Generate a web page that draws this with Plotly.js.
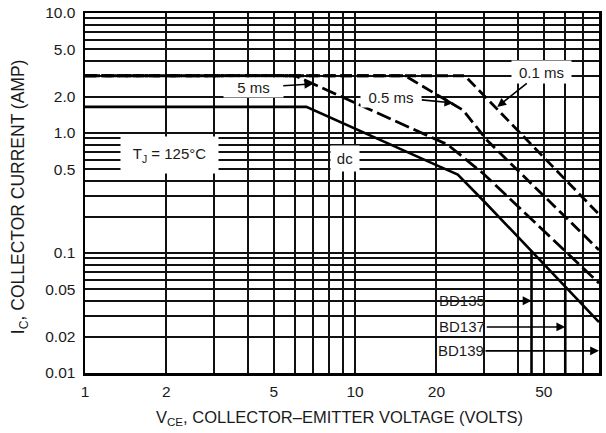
<!DOCTYPE html>
<html>
<head>
<meta charset="utf-8">
<script src="https://cdn.plot.ly/plotly-3.0.1.min.js"></script>
<style>html,body{margin:0;padding:0;background:#fff;}#chart{width:606px;height:433px;}</style>
</head>
<body>
<div id="chart"></div>
<script>
// ---- Data ----
const vceDc = [1, 6.6, 20, 24, 30, 80];
const icDc  = [1.65, 1.65, 0.54, 0.45, 0.27, 0.0266];

const vce5ms = [1, 6, 22, 29.8, 80];
const ic5ms  = [3, 3, 0.8, 0.46, 0.056];

const vce05ms = [1, 15.3, 25.1, 30.8, 80];
const ic05ms  = [3, 3, 1.55, 0.87, 0.106];

const vce01ms = [1, 25.5, 43.4, 80];
const ic01ms  = [3, 3, 0.87, 0.21];

const bdNames  = ['BD135', 'BD137', 'BD139'];
const bdVceMax = [45, 60, 80];
const bdArrowIc = [0.04, 0.0242, 0.0153];
const bd135Ic = [0.104, 0.01];
const bd137Ic = [0.0526, 0.01];

const xGridVals = [1,2,3,4,5,6,7,8,9,10,20,30,40,50,60,70,80];
const xLabelVals = [1,2,5,10,20,50,80];
const yGridVals = [0.01,0.02,0.03,0.04,0.05,0.06,0.07,0.08,0.09,0.1,0.2,0.3,0.4,0.5,0.6,0.7,0.8,0.9,1,2,3,4,5,6,7,8,9,10];
const yLabelVals = [0.01,0.02,0.05,0.1,0.5,1,2,5,10];
const yLabelText = ['0.01','0.02','0.05','0.1','0.5','1.0','2.0','5.0','10.0'];

// ---- Build ----
const FONT = 'Liberation Sans, Arial, sans-serif';
const TXT = '#1a1a1a';
const xTickText = xGridVals.map(v => xLabelVals.includes(v) ? String(v) : '');
const yTickText = yGridVals.map(v => { const i = yLabelVals.indexOf(v); return i >= 0 ? yLabelText[i] : ''; });

const traces = [
  {x: vce01ms, y: ic01ms, mode: 'lines', line: {color: '#000', width: 2.8, dash: '11px,5px'}, hoverinfo: 'skip'},
  {x: vce05ms, y: ic05ms, mode: 'lines', line: {color: '#000', width: 2.8, dash: '12px,5px'}, hoverinfo: 'skip'},
  {x: vce5ms, y: ic5ms, mode: 'lines', line: {color: '#000', width: 2.8, dash: '15px,5px'}, hoverinfo: 'skip'},
  {x: vceDc, y: icDc, mode: 'lines', line: {color: '#000', width: 2.6}, hoverinfo: 'skip'},
  {x: [bdVceMax[0], bdVceMax[0]], y: bd135Ic, mode: 'lines', line: {color: '#000', width: 2.6}, hoverinfo: 'skip'},
  {x: [bdVceMax[1], bdVceMax[1]], y: bd137Ic, mode: 'lines', line: {color: '#000', width: 2.6}, hoverinfo: 'skip'}
];

const L = Math.log10;
const boxAnn = (text, x, y, w, h) => ({text, xref: 'paper', yref: 'paper', x, y, xanchor: 'center', yanchor: 'middle',
  showarrow: false, bgcolor: '#fff', width: w, height: h, font: {family: FONT, size: 15, color: TXT}});
const arrowAnn = (text, vx, vy, ax, ay, extra) => Object.assign({text, x: L(vx), y: L(vy), xref: 'x', yref: 'y',
  ax, ay, showarrow: true, arrowhead: 2, arrowsize: 1.1, arrowwidth: 1.6, arrowcolor: '#000',
  bgcolor: '#fff', font: {family: FONT, size: 15, color: TXT}}, extra || {});

const annotations = [
  boxAnn('T<sub>J</sub> = 125°C', 0.165, 0.606, 95, 34),
  boxAnn('dc', 0.506, 0.597, 26, 23),
  arrowAnn('5 ms', 7, 2.57, -60, 4, {width: 57, height: 17}),
  arrowAnn('0.5 ms', 23.1, 1.78, -62, -6, {width: 58, height: 18}),
  arrowAnn('0.1 ms', 33.6, 1.65, 44, -35, {width: 57, height: 20}),
  arrowAnn(bdNames[0], bdVceMax[0], bdArrowIc[0], -70, 0, {bgcolor: 'rgba(0,0,0,0)'}),
  arrowAnn(bdNames[1], bdVceMax[1], bdArrowIc[1], -103, 0, {bgcolor: 'rgba(0,0,0,0)'}),
  arrowAnn(bdNames[2], bdVceMax[2], bdArrowIc[2], -138, 0, {bgcolor: 'rgba(0,0,0,0)'}),
  {text: 'V<sub>CE</sub>, COLLECTOR–EMITTER VOLTAGE (VOLTS)', xref: 'paper', yref: 'paper', x: 0.496, y: -0.125,
   xanchor: 'center', yanchor: 'middle', showarrow: false, font: {family: FONT, size: 16.5, color: TXT}},
  {text: 'I<sub>C</sub>, COLLECTOR CURRENT (AMP)', xref: 'paper', yref: 'paper', x: -0.126, y: 0.489,
   xanchor: 'center', yanchor: 'middle', textangle: -90, showarrow: false, font: {family: FONT, size: 17.5, color: TXT}}
];

const layout = {
  width: 606, height: 433,
  margin: {l: 85, r: 7, t: 13, b: 60},
  paper_bgcolor: '#fff', plot_bgcolor: '#fff',
  showlegend: false,
  xaxis: {type: 'log', range: [0, L(80)], tickmode: 'array', tickvals: xGridVals, ticktext: xTickText,
    showgrid: true, gridcolor: '#111', gridwidth: 2, zeroline: false, ticks: '', ticklabelstandoff: 3,
    showline: true, mirror: true, linecolor: '#000', linewidth: 2.5,
    tickfont: {family: FONT, size: 15.5, color: TXT}},
  yaxis: {type: 'log', range: [-2, 1], tickmode: 'array', tickvals: yGridVals, ticktext: yTickText,
    showgrid: true, gridcolor: '#111', gridwidth: 2, zeroline: false, ticks: '', ticklabelstandoff: 4,
    showline: true, mirror: true, linecolor: '#000', linewidth: 2.5,
    tickfont: {family: FONT, size: 15.5, color: TXT}},
  shapes: [
    {type: 'rect', xref: 'paper', yref: 'paper', x0: 0.665, x1: 0.802, y0: 0.022, y1: 0.253,
     fillcolor: '#fff', line: {width: 0}, layer: 'between'}
  ],
  annotations
};

Plotly.newPlot('chart', traces, layout, {staticPlot: true, displayModeBar: false});
</script>
</body>
</html>
